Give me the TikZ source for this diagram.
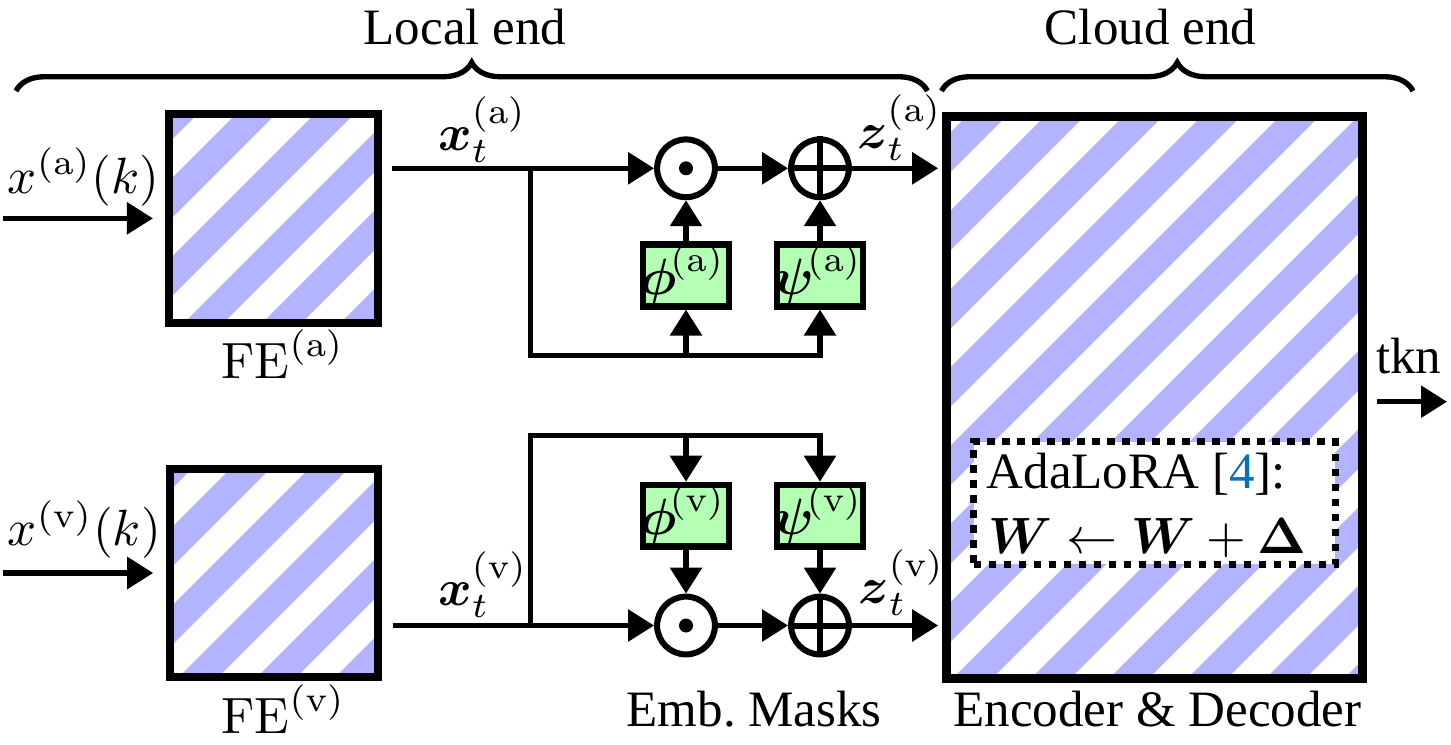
\documentclass[tikz,border=0pt]{standalone}
\usepackage{amsmath}
\usepackage[no-math]{fontspec}
\setmainfont{Liberation Serif}
\usetikzlibrary{arrows.meta,decorations.pathreplacing,calc}
\definecolor{stripeblue}{RGB}{179,179,255}
\definecolor{maskgreen}{RGB}{179,255,179}
\definecolor{citeblue}{RGB}{0,114,189}
\begin{document}
\begin{tikzpicture}[x=0.196pt,y=-0.196pt,
  lbl/.style={inner sep=0pt, outer sep=0pt, font=\fontsize{10}{12}\selectfont},
  conn/.style={line width=1.08pt},
  arr/.style={conn, -{Triangle[length=5.1pt,width=6.1pt]}},
  opnode/.style={circle, draw, line width=1.18pt, minimum size=11.33pt, inner sep=0pt},
  maskbox/.style={draw, fill=maskgreen, line width=1.31pt, minimum width=16.86pt, minimum height=12.05pt, inner sep=0pt},
  febox/.style={draw, line width=1.55pt, minimum width=40.9pt, minimum height=40.9pt, inner sep=0pt},
  stripe/.style={stripeblue, line width=5.49pt},
  brc/.style={decorate, decoration={brace, amplitude=5.6pt}, line width=1.05pt}]
\useasboundingbox (0,0) rectangle (1451,744);

% stripes
\begin{scope}
\clip (169.5,114) rectangle (378,322.7);
\foreach \k in {-2,...,5}{
  \pgfmathsetmacro\cc{370+\k*78.3}
  \draw[stripe] (\cc-90,90) -- (\cc-350,350);
}
\end{scope}
\begin{scope}
\clip (169.5,469) rectangle (378.5,677);
\foreach \k in {-2,...,5}{
  \pgfmathsetmacro\cc{719+\k*78.3}
  \draw[stripe] (\cc-440,440) -- (\cc-710,710);
}
\end{scope}
\begin{scope}
\clip (946.2,116.8) rectangle (1362.8,678.8);
\foreach \k in {-2,...,12}{
  \pgfmathsetmacro\cc{1181+\k*78.3}
  \draw[stripe] (\cc-90,90) -- (\cc-710,710);
}
\end{scope}

% boxes
\node[febox] (FEa) at (273.75,218.35) {};
\node[febox] (FEv) at (274,573) {};
\node[draw, line width=1.76pt, minimum width=81.65pt, minimum height=110.15pt, inner sep=0pt] (enc) at (1154.5,397.8) {};
\node[draw, fill=white, line width=1.47pt, dash pattern=on 1.47pt off 1.47pt, minimum width=70.87pt, minimum height=24.1pt, inner sep=0pt] (ada) at (1154.5,503) {};

% operators and masks
\node[opnode] (mulA) at (686,168.3) {};
\node[opnode] (addA) at (820,168.3) {};
\node[opnode] (mulV) at (686,625.5) {};
\node[opnode] (addV) at (820,625.5) {};
\fill (mulA) circle[radius=1.37pt];
\fill (mulV) circle[radius=1.37pt];
\draw[line width=1.18pt] (addA.north) -- (addA.south) (addA.west) -- (addA.east);
\draw[line width=1.18pt] (addV.north) -- (addV.south) (addV.west) -- (addV.east);
\node[maskbox] (phiA) at (686,275.5) {};
\node[maskbox] (psiA) at (820,275.5) {};
\node[maskbox] (phiV) at (686,515.8) {};
\node[maskbox] (psiV) at (820,515.8) {};

% coordinates
\coordinate (inA) at (3,218.35);
\coordinate (inV) at (3,573);
\coordinate (ja) at (530.7,168.3);
\coordinate (fbA) at (530.7,355.7);
\coordinate (jv) at (530.7,625.5);
\coordinate (tv) at (530.7,435.7);
\coordinate (tk1) at (1377,401.7);
\coordinate (tk2) at (1447,401.7);
\coordinate (bl1) at (16,91);
\coordinate (bl2) at (927.4,91);
\coordinate (bc1) at (941.5,91);
\coordinate (bc2) at (1413,91);

% braces
\draw[brc] (bl1) -- (bl2);
\draw[brc] (bc1) -- (bc2);

% connectors (a)
\draw[arr, shorten >=2.45pt] (inA) -- (FEa.west);
\draw[arr, shorten <=2.04pt] (FEa.east |- mulA) -- (mulA);
\draw[arr] (mulA) -- (addA);
\draw[arr, shorten >=0.7pt] (addA) -- (addA -| enc.west);
\draw[arr] (ja) -- (fbA) -- (psiA |- fbA) -- (psiA);
\draw[arr] (phiA |- fbA) -- (phiA);
\draw[arr] (phiA) -- (mulA);
\draw[arr] (psiA) -- (addA);

% connectors (v)
\draw[arr, shorten >=2.45pt] (inV) -- (FEv.west);
\draw[arr, shorten <=2.04pt] (FEv.east |- mulV) -- (mulV);
\draw[arr] (mulV) -- (addV);
\draw[arr, shorten >=0.7pt] (addV) -- (addV -| enc.west);
\draw[arr] (jv) -- (tv) -- (psiV |- tv) -- (psiV);
\draw[arr] (phiV |- tv) -- (phiV);
\draw[arr] (phiV) -- (mulV);
\draw[arr] (psiV) -- (addV);

% output
\draw[arr] (tk1) -- (tk2);

% labels
\node[lbl, anchor=base] (tLocal) at (465,44) {Local end};
\node[lbl, anchor=base] (tCloud) at (1150.5,44) {Cloud end};
\node[lbl, anchor=base west] (tinA) at (8,193.3) {$x^{(\mathrm{a})}(k)$};
\node[lbl, anchor=base west] (tinV) at (8,545.7) {$x^{(\mathrm{v})}(k)$};
\node[lbl, anchor=base west] (tFEa) at (221.7,378.3) {$\mathrm{FE}^{(\mathrm{a})}$};
\node[lbl, anchor=base west] (tFEv) at (221.7,733.3) {$\mathrm{FE}^{(\mathrm{v})}$};
\node[lbl, anchor=base west] (txa) at (438.3,150) {$\boldsymbol{x}_t^{(\mathrm{a})}$};
\node[lbl, anchor=base west] (txv) at (438.3,605) {$\boldsymbol{x}_t^{(\mathrm{v})}$};
\node[lbl, anchor=base west] (tza) at (857,148) {$\boldsymbol{z}_t^{(\mathrm{a})}$};
\node[lbl, anchor=base west] (tzv) at (858.3,603.3) {$\boldsymbol{z}_t^{(\mathrm{v})}$};
\node[lbl, anchor=base] (tphiA) at (683,294) {$\boldsymbol{\phi}^{\!(\mathrm{a})}$};
\node[lbl, anchor=base] (tpsiA) at (818,294) {$\boldsymbol{\psi}^{\!(\mathrm{a})}$};
\node[lbl, anchor=base] (tphiV) at (683,534.3) {$\boldsymbol{\phi}^{\!(\mathrm{v})}$};
\node[lbl, anchor=base] (tpsiV) at (818,534.3) {$\boldsymbol{\psi}^{\!(\mathrm{v})}$};
\node[lbl, anchor=base west] (tEmb) at (626.7,726.7) {Emb.\ Masks};
\node[lbl, anchor=base west] (tEnc) at (953.3,726.7) {Encoder \& Decoder};
\node[lbl, anchor=base west] (ttkn) at (1376,373) {tkn};
\node[lbl, anchor=base west] (tAda) at (986.7,488.3) {AdaLoRA [\textcolor{citeblue}{4}]:};
\node[lbl, anchor=base west] (tW) at (988,553.3) {$\boldsymbol{W}\leftarrow\boldsymbol{W}+\boldsymbol{\Delta}$};
\end{tikzpicture}
\end{document}
